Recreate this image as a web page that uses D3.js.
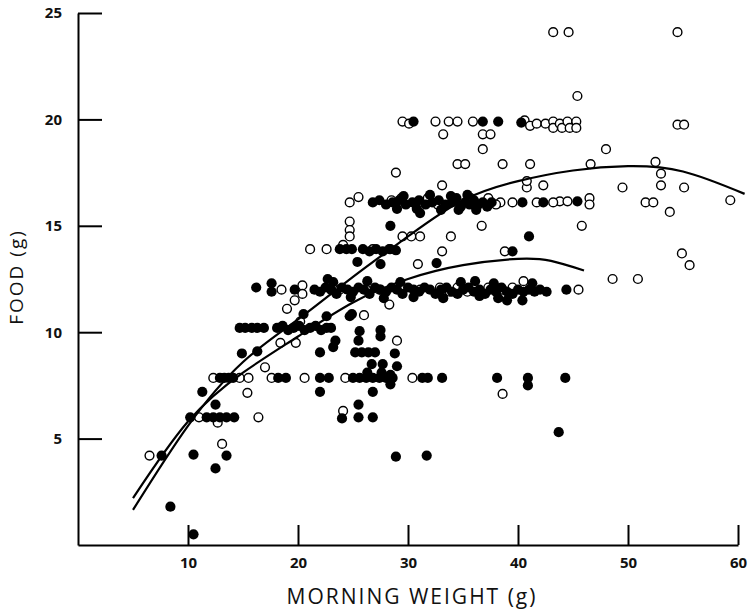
<!DOCTYPE html>
<html>
<head>
<meta charset="utf-8">
<script src="https://cdn.jsdelivr.net/npm/d3@7"></script>
<style>
  body { margin: 0; background: #fff; }
  text { font-family: "Open Sans", "DejaVu Sans", sans-serif; fill: #111; }
</style>
</head>
<body>
<script>
// x ticks and y ticks
const xTicks = [10, 20, 30, 40, 50, 60];
const yTicks = [5, 10, 15, 20, 25];

// [morning weight (g), food (g)] - open circles
const openPts = [
  [43.2,24.1],[44.6,24.1],[54.5,24.1],[45.4,21.1],
  [29.5,19.9],[30.1,19.8],[32.5,19.9],[33.7,19.9],[34.5,19.9],[35.9,19.9],[40.6,19.95],[41.1,19.7],[41.7,19.8],
  [42.5,19.8],[43.2,19.9],[43.2,19.6],[43.8,19.8],[44.0,19.6],[44.5,19.9],[44.7,19.6],[45.3,19.9],[45.3,19.6],
  [54.5,19.75],[55.1,19.75],
  [33.2,19.3],[36.8,19.3],[37.5,19.3],[36.8,18.6],[34.5,17.9],[35.2,17.9],[38.6,17.9],[41.1,17.9],[28.9,17.5],
  [33.1,16.9],[40.8,16.8],[40.8,17.1],[42.3,16.9],
  [48,18.6],[46.6,17.9],[52.5,18.0],[53,17.45],[49.5,16.8],[53,16.9],[55.1,16.8],[59.3,16.2],[43.8,16.15],
  [44.5,16.15],[46.5,16.3],[46.5,16.0],[51.6,16.1],[52.3,16.1],[53.8,15.65],[45.8,15.0],[54.9,13.7],[55.6,13.15],
  [48.6,12.5],[50.9,12.5],
  [38.4,16.1],[39.5,16.1],[41.7,16.1],[43.2,16.1],
  [24.7,16.1],[25.5,16.35],[28.5,16.2],[29.4,16.3],[31.8,16.3],[32.7,16.0],[35.7,16.3],[37.3,16.3],[38.0,16.0],
  [29.5,14.5],[30.3,14.5],[31.1,14.5],[36.7,15.0],[33.9,14.5],
  [24.7,15.2],[24.7,14.8],[24.7,14.5],
  [21.1,13.9],[22.6,13.9],[24.1,14.1],[26.8,13.9],[28.4,13.9],
  [30.9,13.2],[33.1,13.8],[38.8,13.8],
  [18.5,12.0],[20.4,12.2],[20.4,11.8],[23.8,12.0],[26.2,12.0],[27.4,12.0],[31.1,12.0],[32.9,12.1],[33.8,11.9],
  [34.5,12.1],[35.4,11.9],[37.3,12.1],[38.6,12.0],[39.5,12.1],[40.5,12.4],[45.5,12.0],
  [28.3,11.3],[19.7,11.5],[19.0,11.1],[26.0,10.8],
  [20.2,10.5],[18.4,9.5],[19.8,9.5],[29.0,9.6],[17.0,8.35],
  [12.3,7.85],[14.7,7.85],[15.5,7.85],[17.6,7.85],[20.6,7.85],[24.3,7.85],[30.4,7.85],
  [15.4,7.15],[38.6,7.1],[16.4,6.0],[12.7,5.75],[11.0,6.0],[24.1,6.3],[13.1,4.75],[6.5,4.2]
];

// [morning weight (g), food (g)] - filled circles
const filledPts = [
  [30.5,19.9],[36.8,19.9],[38.2,19.9],[40.3,19.85],
  [26.8,16.1],[27.4,16.2],[28.0,16.0],[28.6,16.1],[29.2,16.2],[29.8,16.0],[30.4,16.1],[31.0,16.2],[31.6,16.0],
  [32.2,16.1],[32.8,16.2],[33.4,16.0],[34.0,16.1],[34.4,16.3],[34.8,15.9],[35.2,16.1],[35.6,16.0],[36.0,16.2],
  [36.4,16.0],[36.8,16.1],[37.2,15.9],[37.6,16.1],[40.4,16.1],[42.3,16.1],[45.4,16.15],
  [29.0,15.8],[30.8,15.8],[33.0,15.75],[33.9,16.4],[34.6,15.75],[35.4,16.45],[36.2,15.75],[32.0,16.45],[29.6,16.4],
  [31.1,15.6],[28.4,15.0],[41.0,14.5],
  [23.8,13.9],[24.4,13.9],[24.9,13.9],[25.9,13.9],[26.5,13.8],[27.1,13.9],[27.7,13.8],[28.3,13.9],[28.9,13.85],
  [25.4,13.3],[27.5,13.2],[32.6,13.25],[39.5,13.8],
  [16.2,12.1],[17.6,12.3],[17.6,11.9],[19.7,12.0],[22.7,12.5],
  [21.5,12.0],[22.0,11.9],[22.5,12.1],[23.0,12.0],[23.5,11.8],[24.0,12.1],[24.5,12.0],[25.0,11.9],[25.5,12.1],
  [26.0,12.0],[26.5,11.8],[27.0,12.1],[27.5,12.0],[28.0,11.9],[28.5,12.1],[29.0,12.0],[29.5,11.8],[30.0,12.1],
  [30.5,12.0],[31.0,11.9],[31.5,12.1],[32.0,12.0],[32.5,11.8],[33.0,12.0],[33.5,12.1],[34.0,11.9],[34.5,11.8],
  [35.0,12.0],[35.5,12.1],[36.0,11.9],[36.5,12.0],[37.0,11.8],[37.5,12.0],[38.0,11.9],[38.5,12.1],[39.0,11.9],
  [39.5,11.8],[40.0,12.0],[40.5,11.9],[41.0,12.0],[41.5,11.9],[42.0,12.0],[42.6,11.9],
  [23.2,12.35],[24.8,11.65],[26.3,12.4],[27.8,11.6],[29.3,12.35],[34.8,12.35],[37.8,12.3],[41.3,12.3],[38.2,11.6],
  [44.4,12.0],[30.5,11.65],[33.2,11.6],[36.5,11.7],[39.0,11.5],[40.4,11.5],[36.1,12.4],[24.9,10.85],
  [14.7,10.2],[15.2,10.2],[15.8,10.2],[16.3,10.2],[16.9,10.2],[18.1,10.2],[18.6,10.3],[19.1,10.1],[19.6,10.2],
  [20.1,10.3],[20.6,10.1],[21.1,10.2],[21.6,10.3],[22.1,10.1],[22.6,10.2],[23.0,10.2],[20.5,10.85],[22.6,10.75],
  [24.7,10.75],[25.6,10.05],[27.5,10.1],[27.5,9.8],[23.4,9.6],[25.5,9.6],[23.2,9.3],
  [14.9,9.0],[16.3,9.1],[22.0,9.05],[25.2,9.05],[25.8,9.05],[26.4,9.05],[27.0,9.05],[28.8,9.0],[26.7,8.5],
  [27.7,8.5],[29.0,8.4],[28.4,8.0],[28.4,7.55],[26.3,8.1],[27.6,8.1],
  [12.9,7.85],[13.3,7.85],[13.7,7.85],[14.1,7.85],[18.2,7.85],[18.9,7.85],[22.0,7.85],[22.8,7.85],[25.0,7.85],
  [25.6,7.85],[26.2,7.85],[26.8,7.85],[27.4,7.85],[28.0,7.85],[28.6,7.85],[31.3,7.85],[31.8,7.85],[33.1,7.85],
  [38.1,7.85],[40.9,7.85],[40.9,7.5],[44.3,7.85],
  [11.3,7.2],[12.5,6.6],[22.0,7.2],[26.8,7.2],[25.5,6.6],
  [10.2,6.0],[11.7,6.0],[12.3,6.0],[12.9,6.0],[13.5,6.0],[14.2,6.0],[24.0,5.95],[25.5,6.0],[26.8,6.0],
  [7.6,4.2],[10.5,4.25],[13.5,4.2],[12.5,3.6],[8.4,1.8],[10.5,0.5],[28.9,4.15],[31.7,4.2],[43.7,5.3]
];

// fitted curves
const upperCurve = [[5,1.65],[10,5.6],[15,8.6],[20,10.6],[25,12.6],[30,14.5],[35,16.2],[40,17.1],[45,17.6],[50,17.8],[55,17.55],[60.6,16.5]];
const lowerCurve = [[5,2.2],[10,5.8],[15,8.1],[20,9.8],[25,11.4],[30,12.5],[35,13.15],[40,13.45],[43,13.35],[46,12.9]];

const W = 756, H = 609;

const x = d3.scaleLinear().domain([0, 60]).range([78, 738]);
const y = d3.scaleLinear().domain([0, 25]).range([545, 13]);

const svg = d3.select("body").append("svg")
    .attr("width", W)
    .attr("height", H);

// axes, ticks pointing inward
const xAxis = svg.append("g")
    .attr("transform", "translate(0," + y(0) + ")")
    .call(d3.axisBottom(x).tickValues(xTicks).tickSize(-20).tickSizeOuter(0).tickPadding(12));

const yAxis = svg.append("g")
    .attr("transform", "translate(" + x(0) + ",0)")
    .call(d3.axisLeft(y).tickValues(yTicks).tickSize(-24).tickSizeOuter(0).tickPadding(16));

[xAxis, yAxis].forEach(a => {
  a.select(".domain").attr("stroke", "#000").attr("stroke-width", 2);
  a.selectAll(".tick line").attr("stroke", "#000").attr("stroke-width", 2);
  a.selectAll(".tick text")
    .style("font-family", "'Open Sans', sans-serif")
    .style("font-weight", "bold")
    .style("font-size", "15px")
    .attr("fill", "#000");
});

// points: open circles first, filled ones on top
const pts = svg.append("g");

pts.selectAll(".open")
    .data(openPts)
  .enter().append("circle")
    .attr("class", "open")
    .attr("cx", d => x(d[0]))
    .attr("cy", d => y(d[1]))
    .attr("r", 4.4)
    .attr("fill", "#fff")
    .attr("stroke", "#000")
    .attr("stroke-width", 1.4);

pts.selectAll(".filled")
    .data(filledPts)
  .enter().append("circle")
    .attr("class", "filled")
    .attr("cx", d => x(d[0]))
    .attr("cy", d => y(d[1]))
    .attr("r", 5.1)
    .attr("fill", "#000");

// curves
const line = d3.line()
    .x(d => x(d[0]))
    .y(d => y(d[1]))
    .curve(d3.curveNatural);

svg.selectAll(".fit")
    .data([upperCurve, lowerCurve])
  .enter().append("path")
    .attr("class", "fit")
    .attr("d", line)
    .attr("fill", "none")
    .attr("stroke", "#000")
    .attr("stroke-width", 2.2);

// axis titles
svg.append("text")
    .attr("x", 412)
    .attr("y", 604)
    .attr("text-anchor", "middle")
    .style("font-size", "21px")
    .style("letter-spacing", "2px")
    .attr("fill", "#000")
    .text("MORNING WEIGHT (g)");

svg.append("text")
    .attr("transform", "translate(23,277) rotate(-90)")
    .attr("text-anchor", "middle")
    .style("font-size", "19px")
    .style("letter-spacing", "2px")
    .attr("fill", "#000")
    .text("FOOD (g)");
</script>
</body>
</html>
